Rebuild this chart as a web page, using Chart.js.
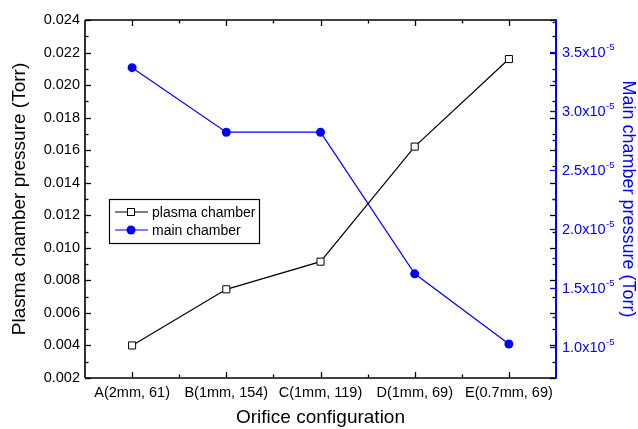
<!DOCTYPE html>
<html>
<head>
<meta charset="utf-8">
<script src="https://cdn.jsdelivr.net/npm/chart.js"></script>
<style>
  body { margin: 0; background: #fff; }
  #chart { display: block; }
</style>
</head>
<body>
<canvas id="chart" width="638" height="429"></canvas>
<script>
// values
const categories = ['A(2mm, 61)', 'B(1mm, 154)', 'C(1mm, 119)', 'D(1mm, 69)', 'E(0.7mm, 69)'];
const plasmaChamber = [0.0040, 0.00745, 0.00915, 0.01622, 0.0216];   // Torr, left axis
const mainChamber = [3.367e-5, 2.82e-5, 2.82e-5, 1.62e-5, 1.025e-5]; // Torr, right axis
const leftTicks = [0.002, 0.004, 0.006, 0.008, 0.010, 0.012, 0.014, 0.016, 0.018, 0.020, 0.022, 0.024];
const rightTicks = [1.0e-5, 1.5e-5, 2.0e-5, 2.5e-5, 3.0e-5, 3.5e-5];
const rightTickLabels = ['1.0', '1.5', '2.0', '2.5', '3.0', '3.5'];

const BLUE = '#0000ff';
const FONT = '"Liberation Sans", Arial, sans-serif';

// axes, ticks, labels and legend drawn Origin-style
const originAxes = {
    id: 'originAxes',
    afterDraw(chart) {
        const ctx = chart.ctx;
        const a = chart.chartArea;
        const x = chart.scales.x, y = chart.scales.y, y1 = chart.scales.y1;
        ctx.save();
        ctx.lineWidth = 1.3;
        ctx.strokeStyle = '#000';

        const line = (x0, y0, x1, y1_, col) => {
            ctx.strokeStyle = col || '#000';
            ctx.beginPath(); ctx.moveTo(x0, y0); ctx.lineTo(x1, y1_); ctx.stroke();
        };

        // left axis ticks, mirrored on the right
        for (let i = 0; i <= 22; i++) {
            const v = 0.002 + i * 0.001;
            const py = Math.round(y.getPixelForValue(v)) + 0.5;
            const len = i % 2 === 0 ? 6 : 3.5;
            line(a.left, py, a.left + len, py);
            line(a.right, py, a.right - len, py);
        }
        // right (blue) axis ticks
        for (let v = 1.0e-5; v <= 3.76e-5; v += 0.25e-5) {
            const py = Math.round(y1.getPixelForValue(v)) + 0.5;
            const major = Math.abs((v / 0.5e-5) - Math.round(v / 0.5e-5)) < 1e-6;
            line(a.right, py, a.right - (major ? 6 : 3.5), py, BLUE);
        }
        // top and bottom ticks at categories and between them
        for (let i = 0; i < categories.length; i++) {
            const px = Math.round(x.getPixelForValue(i)) + 0.5;
            line(px, a.bottom, px, a.bottom - 6);
            line(px, a.top, px, a.top + 6);
            if (i < categories.length - 1) {
                const mx = Math.round((x.getPixelForValue(i) + x.getPixelForValue(i + 1)) / 2) + 0.5;
                line(mx, a.bottom, mx, a.bottom - 3.5);
                line(mx, a.top, mx, a.top + 3.5);
            }
        }

        // frame
        ctx.lineWidth = 1.6;
        line(a.left, a.top, a.right, a.top);
        line(a.left, a.bottom, a.right, a.bottom);
        line(a.left, a.top, a.left, a.bottom);
        ctx.lineWidth = 2;
        line(a.right, a.top - 0.8, a.right, a.bottom + 0.8, BLUE);

        // tick labels
        ctx.fillStyle = '#000';
        ctx.font = '14.5px ' + FONT;
        ctx.textAlign = 'right';
        ctx.textBaseline = 'middle';
        leftTicks.forEach(v => ctx.fillText(v.toFixed(3), a.left - 5, y.getPixelForValue(v)));

        ctx.textAlign = 'center';
        categories.forEach((c, i) => ctx.fillText(c, x.getPixelForValue(i), a.bottom + 15));

        ctx.fillStyle = BLUE;
        ctx.textAlign = 'left';
        rightTicks.forEach((v, i) => {
            const py = y1.getPixelForValue(v);
            ctx.font = '14.5px ' + FONT;
            const txt = rightTickLabels[i] + 'x10';
            ctx.fillText(txt, a.right + 6, py + 1);
            const w = ctx.measureText(txt).width;
            ctx.font = '9.5px ' + FONT;
            ctx.fillText('-5', a.right + 6 + w + 0.5, py - 5);
        });

        // axis titles
        ctx.font = '19px ' + FONT;
        ctx.fillStyle = '#000';
        ctx.textAlign = 'center';
        ctx.fillText('Orifice configuration', (a.left + a.right) / 2, 418);

        ctx.save();
        ctx.translate(20, (a.top + a.bottom) / 2);
        ctx.rotate(-Math.PI / 2);
        ctx.fillText('Plasma chamber pressure (Torr)', 0, 0);
        ctx.restore();

        ctx.save();
        ctx.font = '18px ' + FONT;
        ctx.fillStyle = BLUE;
        ctx.translate(628, (a.top + a.bottom) / 2);
        ctx.rotate(Math.PI / 2);
        ctx.fillText('Main chamber pressure (Torr)', 0, 0);
        ctx.restore();

        // legend box
        ctx.lineWidth = 1.2;
        ctx.strokeStyle = '#000';
        ctx.strokeRect(109.5, 199.5, 150, 44);
        ctx.font = '14px ' + FONT;
        ctx.textAlign = 'left';
        const rows = [212, 230];
        chart.data.datasets.forEach((ds, i) => {
            const ry = rows[i];
            ctx.lineWidth = 1.2;
            line(115, ry, 148, ry, ds.borderColor);
            ctx.lineWidth = 1;
            if (ds.pointStyle === 'rect') {
                ctx.fillStyle = '#fff';
                ctx.fillRect(127.5, ry - 3.5, 7, 7);
                ctx.strokeStyle = '#000';
                ctx.strokeRect(127.5, ry - 3.5, 7, 7);
            } else {
                ctx.fillStyle = ds.pointBackgroundColor;
                ctx.beginPath(); ctx.arc(131, ry, 4.5, 0, Math.PI * 2); ctx.fill();
            }
            ctx.fillStyle = '#000';
            ctx.fillText(ds.label, 152, ry + 1);
        });
        ctx.restore();
    }
};

new Chart(document.getElementById('chart'), {
    type: 'line',
    data: {
        labels: categories,
        datasets: [
            {
                label: 'plasma chamber',
                data: plasmaChamber,
                yAxisID: 'y',
                borderColor: '#000',
                borderWidth: 1.2,
                pointStyle: 'rect',
                pointRadius: 5,
                pointBorderWidth: 1,
                pointBorderColor: '#000',
                pointBackgroundColor: '#fff',
                tension: 0
            },
            {
                label: 'main chamber',
                data: mainChamber,
                yAxisID: 'y1',
                borderColor: BLUE,
                borderWidth: 1.2,
                pointStyle: 'circle',
                pointRadius: 4.5,
                pointBorderWidth: 0,
                pointBorderColor: BLUE,
                pointBackgroundColor: BLUE,
                tension: 0
            }
        ]
    },
    options: {
        responsive: false,
        animation: false,
        devicePixelRatio: 1,
        layout: { padding: { left: 85, right: 82, top: 20, bottom: 51 } },
        plugins: { legend: { display: false }, tooltip: { enabled: false } },
        scales: {
            x: { type: 'category', offset: true, display: false },
            y: { min: 0.002, max: 0.024, display: false },
            y1: { min: 0.737e-5, max: 3.771e-5, display: false, position: 'right' }
        }
    },
    plugins: [originAxes]
});
</script>
</body>
</html>
